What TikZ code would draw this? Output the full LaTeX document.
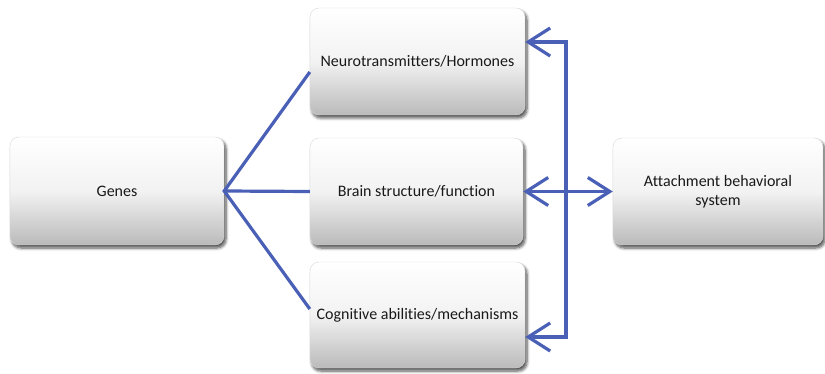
\documentclass[tikz,border=0pt]{standalone}
\usepackage{fontspec}
\setmainfont[Ligatures=NoCommon]{Carlito}
\usetikzlibrary{arrows.meta,shadows.blur,calc}
\definecolor{lineblue}{RGB}{74,96,182}
\tikzset{
  box/.style={rectangle, rounded corners=9pt, draw=gray!30, line width=0.4pt,
    top color=white, bottom color=black!27, middle color=white!95!black,
    shading angle=0,
    blur shadow={shadow xshift=2pt, shadow yshift=-3pt, shadow blur steps=6, shadow blur radius=3pt, shadow opacity=70},
    font=\fontsize{16}{19}\selectfont, align=center, text=black!90},
  link/.style={draw=lineblue, line width=3.2pt},
  arr/.style={link, {Straight Barb[length=22pt,width=28pt,line width=3.2pt]}-{Straight Barb[length=22pt,width=28pt,line width=3.2pt]}}
}
\begin{document}
\begin{tikzpicture}[x=1pt,y=-1pt]
\useasboundingbox (0,0) rectangle (825,374);
\node[box, minimum width=214pt, minimum height=108pt] (genes) at (117,191) {Genes};
\node[box, minimum width=215pt, minimum height=107pt] (neuro) at (417.5,61.5) {Neurotransmitters/Hormones};
\node[box, minimum width=213pt, minimum height=107pt] (brain) at (416.5,191.5) {Brain structure/function};
\node[box, minimum width=215pt, minimum height=106pt] (cogn) at (417.5,315) {Cognitive abilities/mechanisms};
\node[box, minimum width=210pt, minimum height=107pt] (attach) at (718,191.5) {Attachment behavioral\\system};
\coordinate (vt) at (566,42);
\coordinate (vb) at (566,337);
\draw[link, line join=miter] (neuro.west |- 0,72) -- (genes.east) -- (cogn.west |- 0,309);
\draw[link] (genes.east) -- (brain.west);
\draw[arr, line join=miter] (neuro.east |- vt) -- (vt) -- (vb) -- (cogn.east |- vb);
\draw[arr] (brain.east) -- (attach.west);
\end{tikzpicture}
\end{document}
